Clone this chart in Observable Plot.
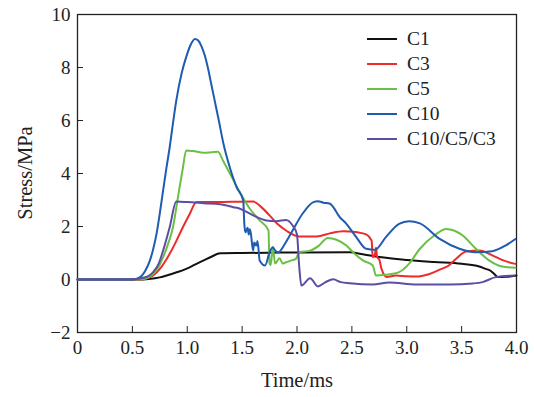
<!DOCTYPE html>
<html>
<head>
<meta charset="utf-8">
<script src="https://cdn.jsdelivr.net/npm/d3@7"></script>
<script src="https://cdn.jsdelivr.net/npm/@observablehq/plot@0.6"></script>
<style>
  html, body { margin: 0; padding: 0; background: #fff; }
  #wrap { position: relative; width: 534px; height: 397px; font-family: "Liberation Serif", "Times New Roman", serif; color: #222; }
  #legend { position: absolute; left: 367px; top: 26px; font-size: 19.5px; line-height: 25px; }
  #legend .row { display: flex; align-items: center; height: 25px; }
  #legend .sw { width: 30px; height: 0; border-top: 2.4px solid; margin-right: 10px; }
  .axlab { position: absolute; font-size: 20.5px; white-space: nowrap; line-height: 1; }
  #xlab { left: 297px; top: 380px; transform: translate(-50%, -50%); }
  #ylab { left: 25px; top: 173px; transform: translate(-50%, -50%) rotate(-90deg); }
</style>
</head>
<body>
<div id="wrap"><div id="legend"></div><div class="axlab" id="xlab"></div><div class="axlab" id="ylab"></div></div>
<script>
// ---- data ----
const seriesNames = ["C1", "C3", "C5", "C10", "C10/C5/C3"];
const seriesColors = ["#111111", "#ee2a2a", "#6cbf45", "#1f5bb0", "#5b4ea4"];

const C1 = [[0,0],[0.55,0],[0.65,0.02],[0.75,0.08],[0.84,0.19],[0.92,0.29],[0.99,0.40],[1.07,0.56],[1.15,0.72],[1.22,0.86],[1.30,0.99],[1.5,1.0],[2.0,1.02],[2.48,1.03],[2.6,0.95],[2.75,0.85],[3.0,0.74],[3.25,0.66],[3.5,0.59],[3.66,0.49],[3.72,0.40],[3.76,0.34],[3.8,0.2],[3.83,0.09],[3.9,0.1],[4.0,0.15]];

const C3 = [[0,0],[0.55,0],[0.62,0.03],[0.69,0.15],[0.76,0.45],[0.84,0.97],[0.90,1.45],[0.96,1.97],[1.02,2.45],[1.085,2.92],[1.2,2.92],[1.4,2.93],[1.6,2.94],[1.67,2.75],[1.75,2.42],[1.82,2.1],[1.90,1.85],[2.02,1.62],[2.18,1.62],[2.3,1.74],[2.42,1.82],[2.55,1.78],[2.63,1.7],[2.68,1.47],[2.69,0.84],[2.71,0.95],[2.72,1.2],[2.73,0.85],[2.75,0.75],[2.77,0.4],[2.82,0.09],[2.9,0.15],[3.0,0.12],[3.085,0.11],[3.2,0.2],[3.3,0.37],[3.38,0.52],[3.45,0.78],[3.54,1.06],[3.66,1.09],[3.78,0.91],[3.88,0.72],[3.99,0.59]];

const C5 = [[0,0],[0.55,0],[0.62,0.04],[0.69,0.21],[0.74,0.48],[0.78,0.84],[0.83,1.4],[0.87,1.97],[0.90,2.7],[0.93,3.48],[0.96,4.2],[0.99,4.87],[1.05,4.85],[1.15,4.78],[1.22,4.8],[1.28,4.82],[1.33,4.45],[1.39,3.99],[1.48,3.29],[1.57,2.67],[1.66,2.23],[1.74,1.85],[1.75,0.6],[1.76,0.55],[1.78,1.22],[1.80,0.6],[1.84,0.8],[1.87,0.6],[1.90,0.65],[1.95,0.72],[1.99,0.78],[2.02,1.03],[2.12,1.09],[2.2,1.28],[2.28,1.57],[2.36,1.5],[2.45,1.28],[2.51,1.03],[2.6,0.72],[2.69,0.53],[2.72,0.15],[2.81,0.18],[2.93,0.28],[3.02,0.59],[3.12,1.16],[3.25,1.66],[3.36,1.91],[3.43,1.85],[3.51,1.66],[3.63,1.16],[3.75,0.72],[3.87,0.49],[3.99,0.44]];

const C10 = [[0,0],[0.5,0],[0.57,0.09],[0.62,0.35],[0.66,0.72],[0.69,1.15],[0.72,1.72],[0.75,2.5],[0.78,3.36],[0.81,4.2],[0.84,4.99],[0.87,5.9],[0.90,6.75],[0.95,7.8],[0.99,8.39],[1.03,8.85],[1.07,9.08],[1.10,9.02],[1.13,8.8],[1.16,8.45],[1.19,7.95],[1.22,7.35],[1.25,6.75],[1.29,5.95],[1.33,5.12],[1.39,4.2],[1.45,3.48],[1.51,2.98],[1.52,2.1],[1.53,1.78],[1.55,1.95],[1.56,1.7],[1.57,1.9],[1.58,1.72],[1.60,1.09],[1.61,1.4],[1.63,1.28],[1.64,1.45],[1.66,0.72],[1.71,0.53],[1.75,1.03],[1.78,1.22],[1.80,1.1],[1.83,1.03],[1.89,1.35],[1.96,1.85],[2.05,2.48],[2.15,2.92],[2.19,2.95],[2.24,2.9],[2.30,2.86],[2.39,2.35],[2.45,2.1],[2.54,1.60],[2.63,1.16],[2.71,1.12],[2.81,1.60],[2.93,2.10],[3.02,2.20],[3.12,2.12],[3.30,1.53],[3.48,1.16],[3.63,1.03],[3.78,1.07],[3.90,1.28],[3.99,1.53]];

const C10C5C3 = [[0,0],[0.5,0],[0.58,0.05],[0.64,0.12],[0.69,0.28],[0.74,0.6],[0.78,1.09],[0.84,1.97],[0.90,2.94],[1.0,2.92],[1.15,2.88],[1.30,2.84],[1.42,2.73],[1.48,2.67],[1.60,2.42],[1.72,2.23],[1.81,2.20],[1.90,2.25],[1.96,2.04],[2.0,1.7],[2.02,0.5],[2.04,-0.23],[2.12,0.05],[2.19,-0.26],[2.26,-0.1],[2.33,0.01],[2.40,-0.1],[2.48,-0.14],[2.69,-0.19],[2.84,-0.11],[3.09,-0.19],[3.39,-0.19],[3.6,-0.15],[3.69,-0.10],[3.81,0.09],[3.98,0.15]];

const xTicks = [0, 0.5, 1.0, 1.5, 2.0, 2.5, 3.0, 3.5, 4.0];
const xTickLabels = ["0", "0.5", "1.0", "1.5", "2.0", "2.5", "3.0", "3.5", "4.0"];
const yTicks = [-2, 0, 2, 4, 6, 8, 10];
const yTickLabels = ["\u22122", "0", "2", "4", "6", "8", "10"];
const xLabel = "Time/ms";
const yLabel = "Stress/MPa";

// ---- build ----
const seriesData = [C1, C3, C5, C10, C10C5C3];
const rows = seriesData.flatMap((arr, i) => arr.map(([t, v]) => ({series: seriesNames[i], t, v})));

const plot = Plot.plot({
  width: 534,
  height: 397,
  marginLeft: 77,
  marginRight: 18,
  marginTop: 14,
  marginBottom: 65,
  style: {fontFamily: "Liberation Serif, Times New Roman, serif", fontSize: "19px", color: "#222", background: "#fff"},
  x: {domain: [0, 4]},
  y: {domain: [-2, 10]},
  color: {domain: seriesNames, range: seriesColors},
  marks: [
    Plot.frame({stroke: "#222", strokeWidth: 1.3}),
    Plot.axisX({ticks: xTicks, tickFormat: (d) => xTickLabels[xTicks.indexOf(d)], tickSize: -6, tickPadding: 14, label: null, fontSize: 19}),
    Plot.axisY({ticks: yTicks, tickFormat: (d) => yTickLabels[yTicks.indexOf(d)], tickSize: -6, tickPadding: 13, label: null, fontSize: 19}),
    Plot.line(rows, {x: "t", y: "v", z: "series", stroke: "series", strokeWidth: 2, curve: "monotone-x"})
  ]
});
document.getElementById("wrap").prepend(plot);
document.getElementById("xlab").textContent = xLabel;
document.getElementById("ylab").textContent = yLabel;

const legend = document.getElementById("legend");
seriesNames.forEach((name, i) => {
  const row = document.createElement("div");
  row.className = "row";
  const sw = document.createElement("span");
  sw.className = "sw";
  sw.style.borderColor = seriesColors[i];
  const tx = document.createElement("span");
  tx.textContent = name;
  row.append(sw, tx);
  legend.append(row);
});
</script>
</body>
</html>
